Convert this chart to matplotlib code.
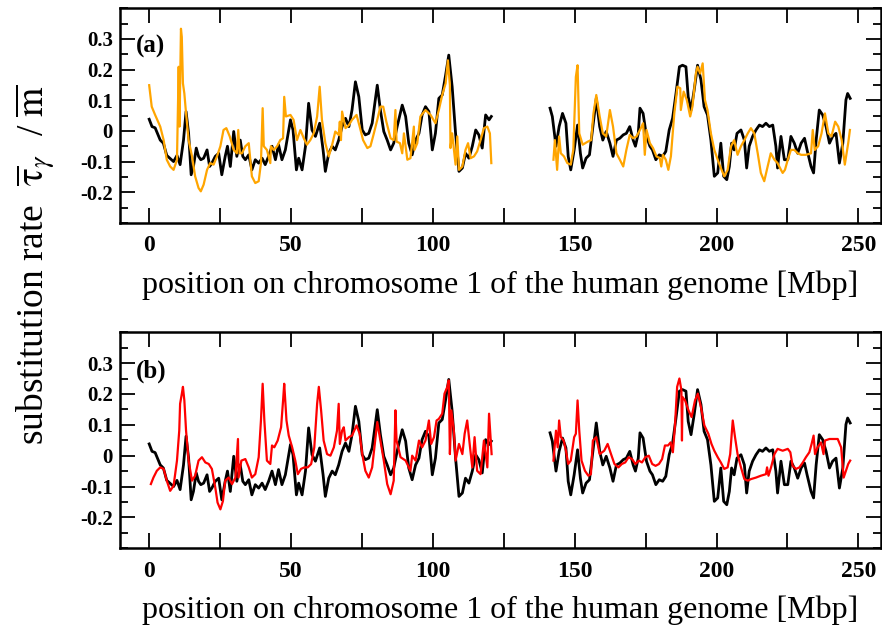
import matplotlib
matplotlib.use("Agg")
import matplotlib.pyplot as plt
from matplotlib.ticker import FixedLocator, MultipleLocator
import numpy as np

plt.rcParams['font.family'] = ['Liberation Serif', 'DejaVu Serif']
plt.rcParams['mathtext.fontset'] = 'stix'

# black curve (same in both panels), left arm of chromosome 1
black_x1 = [0, 1, 2.1, 3.9, 5, 6.2, 7.4, 8.6, 9.8, 10.9, 12.1, 13, 13.9, 14.8, 15.6, 16.6, 17.4, 18.2,
            19.2, 20.4, 21.3, 22.1, 23.3, 24.5, 25.6, 26.8, 27.6, 28.6, 29.8, 30.9, 32.1, 33, 33.9, 35.1,
            36.2, 37.4, 38.6, 39.8, 40.9, 42.1, 43.3, 44.5, 45.6, 46.8, 48, 49.8, 50.7, 51.9, 52.7, 53.9,
            55.1, 56.2, 57.4, 58.6, 60.1, 61.3, 62.1, 63.3, 64.5, 65.6, 66.8, 68, 69.2, 70.4, 71.5, 72.7,
            73.9, 75.1, 76.2, 77.4, 78.6, 80.4, 81.5, 82.7, 83.9, 85.1, 86.2, 87.4, 89.2, 90.4, 91.5, 92.7,
            93.9, 95.1, 96.2, 97.4, 98.6, 99.8, 100.9, 102.1, 103.3, 104.5, 105.6, 106.8, 108, 109.2,
            110.4, 111.5, 112.7, 113.9, 115.1, 116.2, 117.4, 118.6, 119.8, 120.6]
black_y1 = [0.038, 0.014, 0.01, -0.03, -0.04, -0.08, -0.09, -0.1, -0.08, -0.11, -0.03, 0.063, -0.008,
            -0.143, -0.116, -0.056, -0.083, -0.094, -0.089, -0.062, -0.116, -0.105, -0.083, -0.073, -0.143,
            -0.083, -0.05, -0.116, -0.002, -0.083, -0.03, -0.083, -0.094, -0.078, -0.127, -0.094, -0.105,
            -0.089, -0.11, -0.083, -0.05, -0.094, -0.045, -0.094, -0.062, 0.036, 0.003, -0.127, -0.089,
            -0.127, -0.05, 0.09, 0.003, -0.018, 0.025, -0.062, -0.132, -0.073, -0.05, -0.062, -0.03, 0.014,
            0.041, 0.014, 0.068, 0.16, 0.111, 0.003, -0.013, -0.008, 0.025, 0.149, 0.068, -0.002, -0.03,
            -0.062, -0.04, 0.014, 0.084, 0.047, -0.04, -0.078, -0.03, -0.008, 0.052, 0.079, 0.063, -0.062,
            -0.008, 0.106, 0.117, 0.182, 0.247, 0.144, -0.008, -0.132, -0.121, -0.073, -0.089, -0.05, 0.003,
            -0.013, -0.056, 0.052, 0.036, 0.047]
# black curve, right arm
black_x2 = [141.3, 142.1, 143.4, 144.5, 145.7, 146.9, 147.7, 148.6, 149.8, 151, 152, 152.8, 154, 155.2,
            156.4, 157.6, 158.8, 159.9, 161.1, 162.4, 163.5, 164.7, 165.9, 167.1, 168.2, 169.4, 170.6,
            171.4, 172.4, 173, 174.1, 175.3, 176.5, 177.4, 178.6, 179.8, 181, 182.1, 183.3, 184.5, 185.7,
            186.9, 188, 189.2, 190, 191, 192.1, 193.3, 194.5, 195.6, 196.8, 198, 199.2, 200.4, 201.5,
            202.5, 203.6, 204.5, 205.3, 206.2, 207.2, 208.6, 209.8, 210.6, 211.5, 212.7, 213.9, 215.1,
            216.2, 217.4, 218.6, 219.8, 220.9, 221.5, 222.7, 223.9, 225.1, 226.2, 227.4, 228.6, 229.8,
            231, 231.9, 233.3, 234.2, 235.1, 236.2, 237.4, 238.6, 239.8, 240.9, 242.1, 243.3, 244.5,
            245.6, 246.2, 247.1]
black_y2 = [0.074, 0.047, -0.05, 0.014, 0.057, 0.025, -0.083, -0.127, -0.062, 0.019, -0.073, -0.121,
            -0.089, -0.078, 0.014, 0.106, 0.014, -0.03, -0.002, -0.04, -0.083, -0.03, -0.024, -0.013,
            -0.008, 0.014, -0.03, -0.05, -0.008, 0.074, 0.057, -0.018, -0.05, -0.062, -0.094, -0.078,
            -0.083, -0.067, 0.003, 0.041, 0.122, 0.209, 0.214, 0.209, 0.111, 0.068, 0.133, 0.214, 0.166,
            0.079, 0.052, -0.03, -0.148, -0.137, -0.04, -0.148, -0.159, -0.116, -0.04, -0.062, -0.008,
            0.003, -0.03, -0.121, -0.05, -0.018, 0.003, 0.019, 0.014, 0.025, 0.014, 0.019, -0.05, -0.121,
            -0.018, -0.094, -0.094, -0.018, -0.04, -0.073, -0.04, -0.024, -0.062, -0.116, -0.137, -0.03,
            0.068, 0.052, 0.014, -0.04, -0.018, -0.008, -0.105, -0.04, 0.101, 0.122, 0.106]

# orange curve, panel (a)
orange_x1 = [0, 0.9, 2.1, 3.9, 5.1, 6.2, 7.4, 8.6, 9.8, 10.4, 10.7, 11.2, 11.5, 11.9, 12.4, 13, 13.9,
             15.1, 16.2, 17.4, 18.2, 19.2, 20.4, 21.5, 22.7, 23.9, 25.1, 26.2, 27.2, 28.4, 29.8, 30.9,
             31.4, 31.9, 32.7, 33.9, 35.1, 36.2, 37.4, 38.6, 39.4, 40, 40.4, 41.5, 42.7, 42.9, 43.9, 45.1,
             46.2, 47.2, 47.6, 48.2, 49.8, 50.9, 52.1, 53.3, 54.5, 55.6, 56.8, 58, 59.2, 60.1, 60.9, 62.1,
             63.3, 64.5, 65.6, 66.8, 67.2, 67.6, 68, 69.2, 70.4, 71.5, 73.1, 74.2, 75.4, 76.9, 78, 79.2,
             80.4, 81.5, 82.5, 83.6, 85.1, 86.2, 86.8, 87.2, 88.4, 89.2, 89.8, 91, 92.1, 93.3, 93.5, 94.5,
             95.6, 97.4, 99.2, 100.9, 102.1, 103.3, 104.5, 105.3, 106, 106.2, 106.8, 108, 108.6, 109.2,
             110.4, 111.5, 112.4, 113.3, 114.5, 115.6, 116.8, 118, 119.2, 120.1, 120.6]
orange_y1 = [0.149, 0.079, 0.052, 0.014, -0.03, -0.094, -0.116, -0.127, -0.094, 0.209, 0.014, 0.333,
             0.306, 0.155, 0.122, 0.057, -0.03, -0.083, -0.148, -0.186, -0.197, -0.175, -0.127, -0.105,
             -0.11, -0.083, -0.05, 0.003, 0.009, -0.018, -0.062, -0.073, 0.003, -0.073, -0.073, -0.05,
             -0.04, -0.148, -0.17, -0.164, -0.105, 0.074, -0.05, -0.062, -0.105, -0.05, -0.062, -0.05,
             -0.03, -0.024, 0.111, 0.047, 0.052, 0.036, -0.03, 0.003, -0.024, -0.045, -0.03, -0.008, 0.047,
             0.144, 0.036, -0.04, -0.083, -0.045, -0.002, -0.013, 0.03, -0.03, 0.063, 0.009, 0.019, 0.036,
             0.052, 0.014, -0.03, -0.056, -0.05, -0.008, 0.036, 0.079, 0.079, 0.03, -0.024, -0.03, 0.068,
             -0.035, -0.04, -0.073, -0.008, -0.094, -0.089, 0.014, -0.062, -0.04, 0.047, 0.068, 0.052,
             0.025, 0.068, 0.117, 0.155, 0.23, 0.149, -0.056, -0.008, -0.11, -0.018, -0.127, -0.116,
             -0.062, -0.04, -0.089, -0.083, -0.067, -0.03, 0.009, 0.014, -0.008, -0.105]
orange_x2 = [142.5, 143, 143.8, 144.5, 145.1, 146.2, 147.4, 148.6, 149.5, 150.4, 151, 151.6, 152.8, 154.6,
             155.8, 156.6, 157.6, 158.8, 159.9, 161.1, 162.4, 163.5, 164.7, 165.9, 167.1, 168.2, 169.4,
             170.6, 171.8, 173, 174.1, 174.7, 175.3, 176.5, 177.6, 178.8, 180, 180.5, 181.1, 182.1, 183,
             183.9, 185.1, 186.2, 187.2, 187.4, 188.4, 189.5, 190.7, 191.5, 192.7, 193.3, 194.2, 195.1,
             195.9, 196.8, 198, 199.2, 200.4, 201.5, 202.7, 203.9, 205.1, 206.2, 207.4, 208.6, 209.8, 211,
             212.1, 213.3, 214.5, 215.6, 216.8, 218, 219.1, 220.4, 221.5, 222.7, 223.3, 224.1, 225.1,
             226.2, 227.4, 228.6, 229.8, 231.5, 233.3, 233.9, 234.6, 235.8, 237, 238.2, 239.4, 240.5,
             241.8, 242.9, 244.1, 245.2, 246.4, 247]
orange_y2 = [-0.094, -0.03, -0.127, -0.018, -0.073, -0.083, -0.105, -0.11, -0.062, 0.176, 0.214, -0.008,
             -0.045, -0.035, -0.03, 0.057, 0.117, 0.047, -0.008, -0.018, 0.068, 0.014, -0.073, -0.094,
             -0.116, -0.062, -0.013, -0.024, -0.018, 0.003, 0.025, -0.078, 0.003, -0.04, -0.056, -0.083,
             -0.089, -0.116, -0.078, -0.094, -0.127, -0.083, 0.057, 0.144, 0.139, 0.068, 0.128, 0.101,
             0.047, 0.079, 0.187, 0.209, 0.187, 0.22, 0.101, 0.068, -0.008, -0.062, -0.094, -0.121, -0.148,
             -0.127, -0.05, -0.03, -0.078, -0.05, -0.03, -0.008, 0.009, -0.008, -0.073, -0.137, -0.164,
             -0.116, -0.073, -0.094, -0.105, -0.127, -0.137, -0.127, -0.094, -0.062, -0.062, -0.073,
             -0.078, -0.078, -0.073, 0.003, -0.062, -0.05, -0.008, 0.057, -0.008, -0.018, 0.03, 0.014,
             -0.03, -0.11, -0.04, 0.003]

# red curve, panel (b)
red_x1 = [0.6, 1.5, 2.7, 3.9, 5.1, 6.2, 7.4, 8.6, 9.8, 10.6, 10.9, 11.5, 11.9, 12.4, 13, 13.9, 15.1, 16.2,
          17.4, 18.6, 19.8, 21, 22.1, 23.3, 24.1, 25.1, 26, 26.8, 28, 29.2, 30.4, 31.3, 31.5, 32.5, 33.9,
          35.1, 36.2, 37.4, 38.6, 39.4, 40, 40.6, 41.5, 42.7, 43.3, 44.1, 45.3, 46.5, 47.2, 47.6, 48.4,
          49.2, 50.4, 51.5, 52.4, 53.5, 54.7, 55.9, 57.1, 58.2, 59.2, 59.8, 60.6, 61.5, 62.7, 63.9, 65.1,
          66.2, 66.8, 67.2, 68, 68.6, 69.2, 70.4, 71.5, 73.1, 74.2, 75.1, 76.2, 77.4, 78.6, 79.8, 80.4,
          81.5, 82.7, 83.9, 85.1, 86.2, 86.8, 87.2, 88.6, 90.4, 92.1, 92.7, 93.9, 95.1, 96.2, 97.4, 98.6,
          99.4, 100.4, 101.3, 102.1, 103.3, 104.1, 105.1, 105.6, 106, 106.5, 107.4, 108, 109.2, 110.4,
          111.2, 112.1, 113.1, 113.9, 114.7, 115.6, 116.8, 118, 119.2, 119.8, 120.4, 120.7]
red_y1 = [-0.092, -0.071, -0.049, -0.038, -0.043, -0.081, -0.114, -0.098, -0.016, 0.081, 0.168, 0.2,
          0.223, 0.179, 0.081, -0.016, -0.081, -0.065, -0.016, -0.005, -0.022, -0.027, -0.043, -0.103,
          -0.152, -0.174, -0.147, -0.081, -0.071, -0.092, -0.071, 0.054, -0.071, -0.016, -0.011, -0.038,
          -0.071, -0.06, -0.005, 0.114, 0.233, 0.114, -0.016, -0.027, 0.033, 0.027, 0.049, 0.092, 0.179,
          0.233, 0.114, 0.065, 0.027, -0.016, -0.06, -0.043, -0.038, -0.038, -0.027, 0.027, 0.168, 0.223,
          0.147, 0.049, 0.005, 0.0, 0.027, 0.081, 0.168, 0.038, 0.081, 0.092, 0.049, 0.06, 0.065, 0.098,
          0.071, 0.005, -0.049, -0.071, -0.038, 0.06, 0.109, 0.049, -0.016, -0.092, -0.125, -0.081, 0.147,
          0.049, -0.005, -0.016, -0.049, 0.0, -0.016, 0.049, 0.027, 0.049, 0.114, 0.038, 0.06, 0.114,
          0.119, 0.136, 0.201, 0.223, 0.244, 0.005, 0.147, 0.081, -0.016, 0.038, 0.005, 0.071, 0.114,
          0.027, -0.038, 0.06, -0.049, -0.06, 0.049, -0.038, 0.136, 0.049, 0.005]
red_x2 = [142.5, 143.4, 144, 144.5, 145.1, 146.1, 146.9, 147.7, 148.6, 149.8, 150.4, 151, 151.6, 152.4,
          153.6, 154.8, 155.7, 156.4, 157.6, 158.8, 160.4, 161.6, 162.8, 164, 165.4, 166.6, 167.8, 169,
          170.2, 171.4, 172.6, 173.7, 174.9, 176.1, 177.3, 178.5, 179.7, 180.8, 181.8, 182.9, 183.8,
          184.6, 185.3, 186.1, 186.9, 187.6, 187.8, 188, 188.9, 190.1, 191.2, 192.4, 193.4, 194.5, 195.7,
          197.1, 198.2, 199.2, 200.4, 201.5, 202.7, 203.9, 204.8, 205.7, 206.5, 207.4, 208.6, 209.8, 211,
          212.1, 213.9, 215.6, 217.4, 217.8, 218.3, 219.2, 220.4, 221.5, 223.3, 225.1, 226, 226.8, 228,
          229.2, 230.4, 231.5, 232.7, 233.5, 234.2, 234.7, 235.6, 236.8, 237.7, 238.2, 239.8, 241.5,
          242.7, 243.9, 244.8, 245.6, 246.4, 247.1]
red_y2 = [-0.016, 0.081, 0.027, 0.114, 0.06, 0.049, 0.016, -0.027, -0.016, 0.06, 0.071, 0.179, 0.081,
          -0.016, -0.049, -0.065, -0.06, 0.049, 0.06, 0.005, 0.016, 0.038, 0.005, -0.027, -0.038, -0.027,
          -0.022, -0.005, -0.011, -0.027, -0.016, -0.022, -0.005, 0.0, -0.027, -0.033, -0.027, -0.011,
          0.033, 0.033, 0.043, 0.011, 0.092, 0.223, 0.25, 0.212, 0.049, 0.19, 0.179, 0.147, 0.125, 0.179,
          0.201, 0.157, 0.098, 0.071, 0.038, 0.016, -0.005, -0.022, -0.043, -0.038, 0.005, 0.114, 0.06,
          0.005, -0.038, -0.076, -0.081, -0.076, -0.071, -0.065, -0.06, -0.038, -0.065, -0.038, 0.005,
          0.022, 0.016, 0.022, 0.011, -0.033, -0.043, -0.038, -0.022, -0.005, 0.011, 0.038, 0.065, 0.005,
          0.027, 0.043, 0.005, 0.049, 0.054, 0.054, 0.054, 0.027, -0.071, -0.049, -0.027, -0.016]

y_ticks = [-0.2, -0.1, 0, 0.1, 0.2, 0.3]
y_labels = ['-0.2', '-0.1', '0', '0.1', '0.2', '0.3']
x_ticks = [0, 25, 50, 75, 100, 125, 150, 175, 200, 225, 250]
x_labels = ['0', '', '50', '', '100', '', '150', '', '200', '', '250']

fig = plt.figure(figsize=(8.82, 6.28), dpi=100)
ax_a = fig.add_axes([0.136, 0.645, 0.863, 0.342])
ax_b = fig.add_axes([0.136, 0.127, 0.863, 0.344])

panels = [(ax_a, '(a)', orange_x1, orange_y1, orange_x2, orange_y2, '#ffa500'),
          (ax_b, '(b)', red_x1, red_y1, red_x2, red_y2, '#ff0000')]

for ax, tag, cx1, cy1, cx2, cy2, col in panels:
    ax.plot(black_x1, black_y1, color='black', lw=2.0, zorder=2)
    ax.plot(black_x2, black_y2, color='black', lw=2.0, zorder=2)
    ax.plot(cx1, cy1, color=col, lw=1.6, zorder=3)
    ax.plot(cx2, cy2, color=col, lw=1.6, zorder=3)
    ax.set_xlim(-10.3, 258)
    ax.set_ylim(-0.3, 0.4)
    ax.xaxis.set_major_locator(FixedLocator(x_ticks))
    ax.set_xticklabels(x_labels, fontsize=17, fontweight='bold')
    ax.yaxis.set_major_locator(FixedLocator(y_ticks))
    ax.set_yticklabels(y_labels, fontsize=15, fontweight='bold')
    ax.yaxis.set_minor_locator(MultipleLocator(0.05))
    ax.tick_params(which='major', direction='in', length=11, width=1.3,
                   top=True, right=True)
    ax.tick_params(axis='x', pad=9)
    ax.tick_params(axis='y', pad=5)
    ax.tick_params(which='minor', direction='in', length=6, width=1.3,
                   left=True, right=True)
    for s in ax.spines.values():
        s.set_linewidth(1.8)
    ax.set_xlabel('position on chromosome 1 of the human genome [Mbp]',
                  fontsize=23, labelpad=10)
    ax.text(0.021, 0.82, tag, transform=ax.transAxes, fontsize=18,
            fontweight='bold', va='center', ha='left')

fig.text(0.04, 0.578, r'substitution rate  $\overline{\mathrm{\tau}}_{\gamma}$  / $\overline{\mathrm{m}}$',
         rotation=90, fontsize=27, ha='center', va='center')

plt.savefig('out.png', dpi=100)
